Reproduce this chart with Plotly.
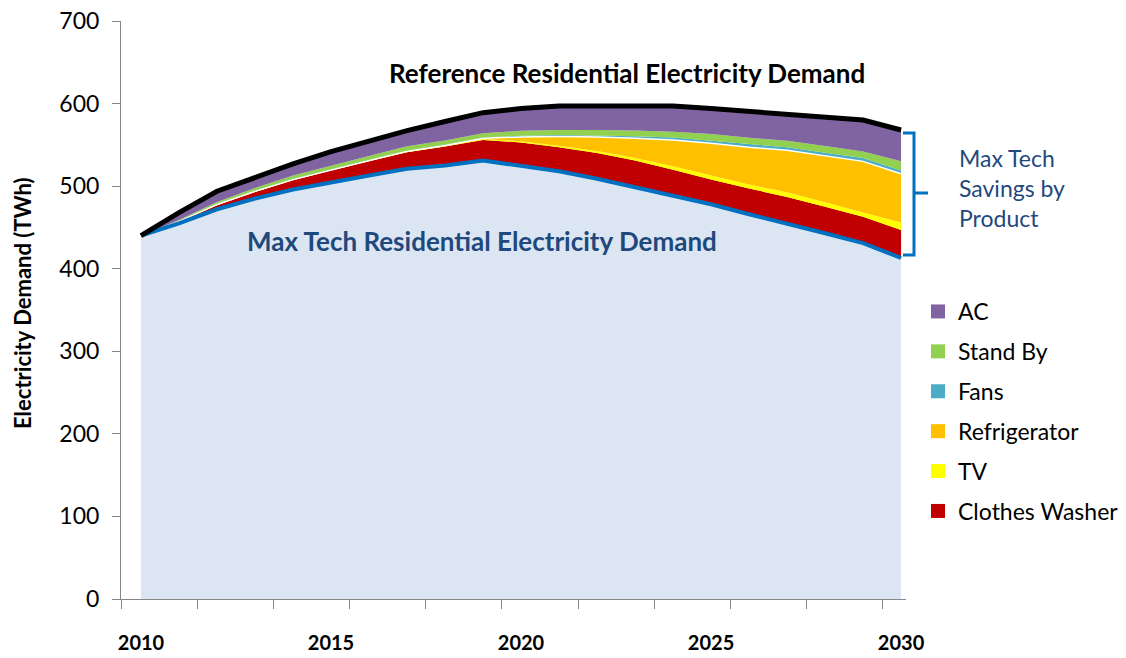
import plotly.graph_objects as go
import numpy as np

# ---------------- data ----------------
years = list(range(2010, 2031))
max_tech = [440, 455, 472, 485, 496, 505, 513, 521, 525, 531, 525, 518, 509, 499, 489, 478, 466, 455, 443, 431, 413]
clothes_washer = [0, 2, 5, 8, 11, 14, 17, 20, 23, 25, 28, 29, 31, 32, 31, 30, 31, 32, 32, 32, 34]
tv = [0, 0.3, 0.5, 0.5, 0.5, 0.5, 0.5, 0.7, 0.8, 1, 1.5, 2, 2.5, 3, 4, 5, 5, 5.5, 5.5, 5, 9]
refrigerator = [0, 0.2, 0.3, 0.3, 0.4, 0.4, 0.5, 0.5, 0.5, 1, 5, 11, 17, 24, 32, 39, 45, 51, 56, 62, 59]
fans = [0, 0.5, 1, 1, 1, 1, 1, 1, 1, 1, 1.5, 2, 2, 2.5, 3, 3, 3.5, 3.5, 4, 4, 4]
stand_by = [0, 1, 2, 3, 4, 4, 4, 5, 5, 5, 6, 6, 6.5, 7, 7, 8, 8, 8, 8, 8, 11]
ac = [0, 9, 13, 13, 14, 17, 19, 19, 23, 25, 27, 29, 29, 30, 31, 31, 32, 32, 35, 38, 38]

x_tick_years = [2010, 2015, 2020, 2025, 2030]
y_ticks = [0, 100, 200, 300, 400, 500, 600, 700]

savings = [
    ("Clothes Washer", clothes_washer, "#C00000"),
    ("TV", tv, "#FFFF00"),
    ("Refrigerator", refrigerator, "#FFC000"),
    ("Fans", fans, "#4BACC6"),
    ("Stand By", stand_by, "#92D050"),
    ("AC", ac, "#8064A2"),
]
reference = np.array(max_tech, dtype=float) + sum(np.array(s[1], dtype=float) for s in savings)

# ---------------- geometry helpers ----------------
W, H = 1126, 658
L, R, T, B = 121, 906, 21, 599


def px(x):
    return (x - L) / (R - L)


def py(y):
    return (B - y) / (B - T)


FONT = "Lato"
fig = go.Figure()

fig.add_trace(go.Scatter(x=years, y=max_tech, stackgroup="s", fillcolor="#DCE6F2",
                         line=dict(width=0, color="#DCE6F2"), showlegend=False, hoverinfo="skip"))
for name, vals, col in savings:
    line = dict(width=0, color=col)
    if name == "Refrigerator":
        line = dict(width=1.5, color="white")
    fig.add_trace(go.Scatter(x=years, y=vals, stackgroup="s", fillcolor=col, line=line,
                             name=name, showlegend=False, hoverinfo="skip"))

fig.add_trace(go.Scatter(x=years, y=max_tech, mode="lines", line=dict(color="#0070C0", width=4),
                         showlegend=False, hoverinfo="skip"))
fig.add_trace(go.Scatter(x=years, y=reference, mode="lines", line=dict(color="#000000", width=5),
                         showlegend=False, hoverinfo="skip"))

# legend entries (top to bottom)
for name, vals, col in reversed(savings):
    fig.add_trace(go.Scatter(x=[None], y=[None], mode="markers", name=name, legendgroup=name,
                             marker=dict(symbol="square", size=14, color=col)))

annotations = [
    dict(text="<b>Reference Residential Electricity Demand</b>", x=px(627), y=py(73),
         font=dict(size=26, color="black", family=FONT)),
    dict(text="<b>Max Tech Residential Electricity Demand</b>", x=px(482), y=py(241),
         font=dict(size=26, color="#1F497D", family=FONT)),
    dict(text="Max Tech<br>Savings by<br>Product", x=px(957), y=py(188), xanchor="left",
         align="left", font=dict(size=23, color="#1F497D", family=FONT)),
    dict(text="<b>Electricity Demand (TWh)</b>", x=px(22), y=py(303), textangle=-90,
         font=dict(size=22, color="black", family=FONT)),
]
for a in annotations:
    a.update(xref="paper", yref="paper", showarrow=False, yanchor="middle")
    a.setdefault("xanchor", "center")

# bracket
bx0, bx1, bn = 903, 914, 928
bt, bb, bm = 133, 255, 193
path = (f"M {px(bx0)} {py(bt)} L {px(bx1)} {py(bt)} L {px(bx1)} {py(bm)} L {px(bn)} {py(bm)} "
        f"M {px(bx1)} {py(bm)} L {px(bx1)} {py(bb)} L {px(bx0)} {py(bb)}")
shapes = [dict(type="path", path=path, xref="paper", yref="paper",
               line=dict(color="#0070C0", width=3))]

fig.update_layout(
    width=W, height=H,
    margin=dict(l=L, r=W - R, t=T, b=H - B, autoexpand=False),
    plot_bgcolor="white", paper_bgcolor="white",
    font=dict(family=FONT, color="black"),
    annotations=annotations,
    shapes=shapes,
    hovermode=False,
    legend=dict(x=px(918), y=py(290), xanchor="left", yanchor="top",
                font=dict(size=23, family=FONT, color="black"),
                tracegroupgap=7, bgcolor="rgba(0,0,0,0)"),
    xaxis=dict(range=[2009.474, 2030.13], tickmode="array", tickvals=x_tick_years,
               ticktext=[str(v) for v in x_tick_years], ticks="", showline=True,
               linecolor="#868686", linewidth=1, showgrid=False, zeroline=False,
               automargin=False,
               tickfont=dict(size=20, family=FONT, color="black", weight="bold"),
               ticklabelstandoff=26,
               minor=dict(ticks="outside", ticklen=9, tickcolor="#868686", tickwidth=1,
                          tick0=2009.474, dtick=2.005, showgrid=False)),
    yaxis=dict(range=[0, 700], tickmode="array", tickvals=y_ticks, ticks="outside",
               ticklen=8, tickcolor="#868686", showline=True, linecolor="#868686",
               linewidth=1, showgrid=False, zeroline=False, automargin=False,
               tickfont=dict(size=23, family=FONT, color="black"), ticklabelstandoff=8),
)

fig.write_html("out.html", config={"displayModeBar": False},
               post_script="document.body.style.margin='0';")
